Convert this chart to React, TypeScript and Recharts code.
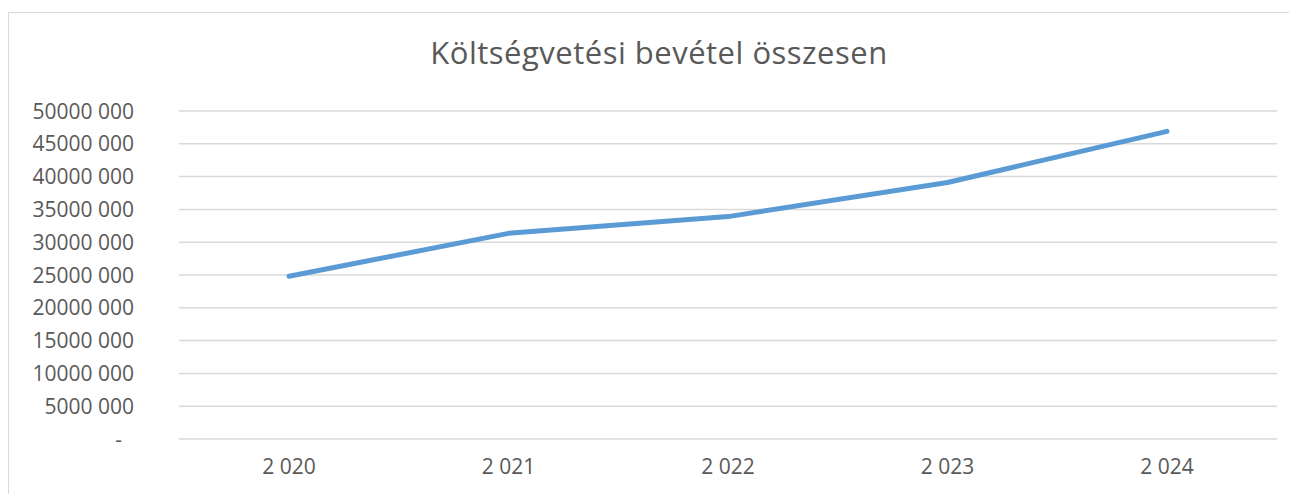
import { CartesianGrid, Line, LineChart, XAxis, YAxis } from 'recharts';

const years = ['2 020', '2 021', '2 022', '2 023', '2 024'];
const revenue = [24800000, 31350000, 33900000, 39100000, 46900000];
const yTicks = [0, 5000000, 10000000, 15000000, 20000000, 25000000, 30000000, 35000000, 40000000, 45000000, 50000000];
const yTickLabels = ['-', '5000 000', '10000 000', '15000 000', '20000 000', '25000 000', '30000 000', '35000 000', '40000 000', '45000 000', '50000 000'];

const data = years.map((year, i) => ({ year, value: revenue[i] }));

const FONT = '"Open Sans", "Noto Sans", sans-serif';
const TEXT = '#595959';

const YTick = ({ x, y, payload }: any) => {
  const i = yTicks.indexOf(payload.value);
  const label = yTickLabels[i] ?? '';
  const isZero = payload.value === 0;
  return (
    <text
      x={isZero ? x - 12 : x}
      y={y}
      dy="0.36em"
      textAnchor="end"
      fill={TEXT}
      fontSize={21}
      fontFamily={FONT}
    >
      {label}
    </text>
  );
};

const App = () => (
  <div
    style={{
      position: 'relative',
      marginTop: 4,
      width: 1289,
      height: 482,
      borderTop: '1px solid #d9d9d9',
      borderLeft: '1px solid #d9d9d9',
      overflow: 'hidden',
      background: '#fff',
    }}
  >
    <div
      style={{
        position: 'absolute',
        left: 0,
        top: 18,
        width: 1300,
        textAlign: 'center',
        fontFamily: FONT,
        fontSize: 31,
        letterSpacing: 0.5,
        color: TEXT,
      }}
    >
      Költségvetési bevétel összesen
    </div>
    <LineChart width={1288} height={481} data={data} margin={{ top: 98, right: 20, left: 0, bottom: 0 }}>
      <CartesianGrid vertical={false} stroke="#d9d9d9" strokeWidth={1.5} />
      <XAxis
        dataKey="year"
        axisLine={false}
        tickLine={false}
        tickSize={0}
        tickMargin={20}
        height={55}
        padding={{ left: 110, right: 110 }}
        tick={{ fill: TEXT, fontSize: 21, fontFamily: FONT }}
      />
      <YAxis
        domain={[0, 50000000]}
        ticks={yTicks}
        interval={0}
        width={170}
        axisLine={false}
        tickLine={false}
        tickSize={0}
        tickMargin={45}
        tick={<YTick />}
      />
      <Line
        type="linear"
        dataKey="value"
        stroke="#5b9bd5"
        strokeWidth={5}
        strokeLinecap="round"
        strokeLinejoin="round"
        dot={false}
        activeDot={false}
        isAnimationActive={false}
      />
    </LineChart>
  </div>
);

export default App;
